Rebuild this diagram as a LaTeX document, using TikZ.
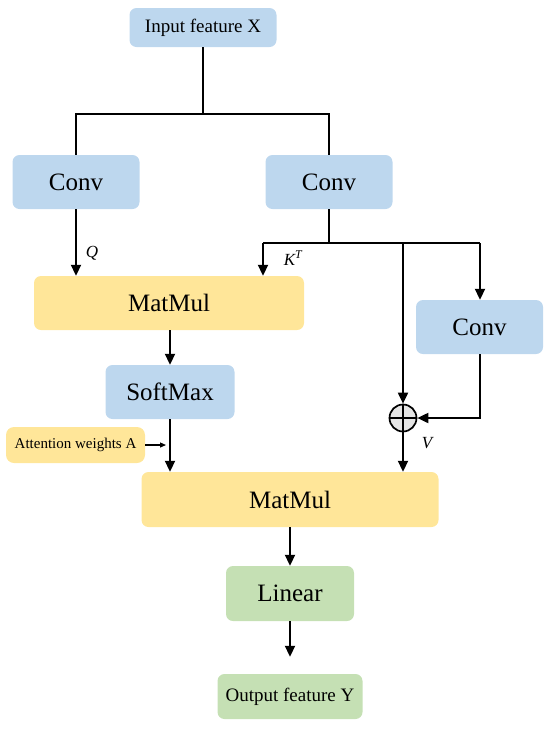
\documentclass[tikz,border=0pt]{standalone}
\usepackage{fontspec}
\setmainfont{Liberation Serif}
\usetikzlibrary{arrows.meta}
\definecolor{cblue}{HTML}{BDD7EE}
\definecolor{cyellow}{HTML}{FFE699}
\definecolor{cgreen}{HTML}{C5E0B4}
\begin{document}
\begin{tikzpicture}[x={(1pt,0)},y={(0,-1pt)},
  box/.style={rounded corners=7pt,inner sep=0pt,font=\fontsize{25}{30}\selectfont},
  bluebox/.style={box,fill=cblue},
  yellowbox/.style={box,fill=cyellow},
  greenbox/.style={box,fill=cgreen},
  line/.style={line width=1.9pt},
  arr/.style={line,-{Triangle[length=11pt,width=10pt]}},
  lbl/.style={font=\fontsize{17}{19}\selectfont\itshape,inner sep=0pt}]
\useasboundingbox (0,0) rectangle (550,729);
% nodes
\node[bluebox,minimum width=147pt,minimum height=39pt,font=\fontsize{19}{22}\selectfont] (inx) at (203,27.5) {Input feature X};
\node[bluebox,minimum width=127pt,minimum height=54pt] (convl) at (76,182) {Conv};
\node[bluebox,minimum width=127pt,minimum height=54pt] (convr) at (329,182) {Conv};
\node[yellowbox,minimum width=270pt,minimum height=54pt] (mm1) at (169,303) {MatMul};
\node[bluebox,minimum width=129pt,minimum height=54pt] (sm) at (170,392) {SoftMax};
\node[bluebox,minimum width=127pt,minimum height=54pt] (conv2) at (479.5,327) {Conv};
\node[circle,draw,line width=1.7pt,fill=gray!20,minimum size=27pt,inner sep=0pt] (plus) at (403,418) {};
\draw[line width=1.7pt] (plus.north) -- (plus.south) (plus.west) -- (plus.east);
\node[yellowbox,rounded corners=8pt,minimum width=139pt,minimum height=36pt,font=\fontsize{15}{18}\selectfont] (att) at (75.5,445) {Attention weights A};
\node[yellowbox,minimum width=297pt,minimum height=55pt] (mm2) at (290,499.5) {MatMul};
\node[greenbox,minimum width=128pt,minimum height=55pt] (lin) at (290,593.5) {Linear};
\node[greenbox,minimum width=145pt,minimum height=45pt,font=\fontsize{19}{22}\selectfont] (out) at (290,696.5) {Output feature Y};
% coordinates
\coordinate (split) at (203,114);
\coordinate (kbar) at (329,243);
\coordinate (attend) at (166,445);
% connectors
\draw[line] (inx.south) -- (split);
\draw[line] (convl.north) |- (split) -| (convr.north);
\draw[arr] (convl.south) -- (mm1.north -| convl.south);
\node[lbl] (q) at (92,253) {Q};
\draw[line] (convr.south) -- (kbar);
\draw[line] (263,243) -- (480,243);
\draw[arr] (263,243) -- (mm1.north -| 263,0);
\node[lbl] (kt) at (293,258) {K\textsuperscript{T}};
\draw[arr] (403,243) -- (plus.north);
\draw[arr] (480,243) -- (conv2.north -| 480,0);
\draw[arr] (conv2.south -| 480,0) |- (plus.east);
\draw[arr] (plus.south) -- (mm2.north -| plus.south);
\node[lbl] (v) at (427,443) {V};
\draw[arr] (mm1.south -| sm.north) -- (sm.north);
\draw[arr] (sm.south) -- (mm2.north -| sm.south);
\draw[line width=1.2pt,-{Triangle[length=6pt,width=5pt]}] (att.east) -- (attend);
\draw[arr] (mm2.south) -- (lin.north);
\draw[arr,shorten >=17pt] (lin.south) -- (out.north);
\end{tikzpicture}
\end{document}
